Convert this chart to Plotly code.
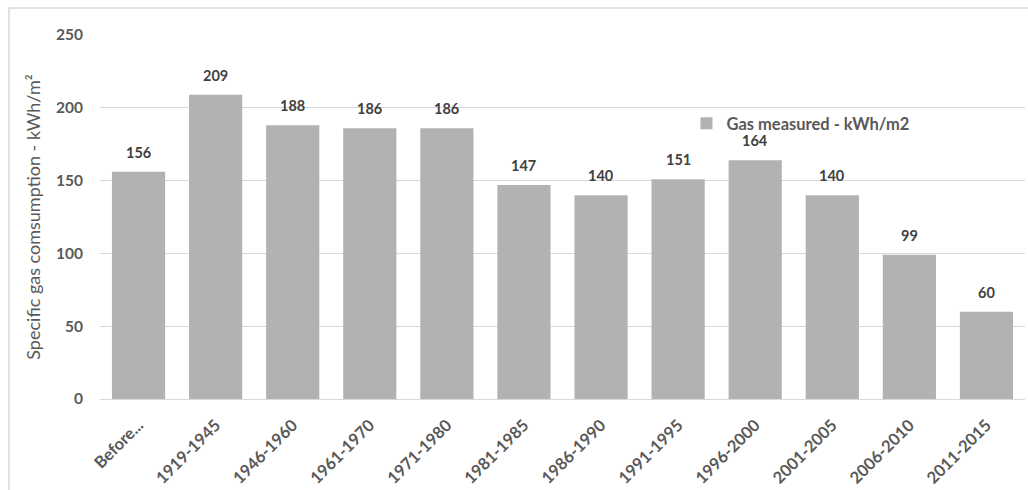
import plotly.graph_objects as go

periods = ["Before...", "1919-1945", "1946-1960", "1961-1970", "1971-1980",
           "1981-1985", "1986-1990", "1991-1995", "1996-2000", "2001-2005",
           "2006-2010", "2011-2015"]
gas_kwh_m2 = [156, 209, 188, 186, 186, 147, 140, 151, 164, 140, 99, 60]
y_ticks = [0, 50, 100, 150, 200, 250]

FONT = "Lato, 'Open Sans', sans-serif"
BAR = "#b2b2b2"
TEXT = "#595959"

fig = go.Figure()
fig.add_trace(go.Bar(
    x=periods,
    y=gas_kwh_m2,
    name="<b>Gas measured - kWh/m2</b>",
    marker=dict(color=BAR, line=dict(width=0)),
))

# value labels sit a little above each bar
for p, v in zip(periods, gas_kwh_m2):
    fig.add_annotation(
        x=p, y=v, text=f"<b>{v}</b>", showarrow=False,
        yanchor="bottom", yshift=9,
        font=dict(family=FONT, size=14.5, color="#404040"),
    )

fig.update_layout(
    width=1028, height=490,
    margin=dict(l=100, r=3, t=35, b=91),
    paper_bgcolor="white", plot_bgcolor="white",
    font=dict(family=FONT, color=TEXT),
    bargap=0.31,
    showlegend=True,
    legend=dict(
        x=0.634, y=0.757, xanchor="left", yanchor="middle",
        bgcolor="rgba(0,0,0,0)",
        font=dict(family=FONT, size=16.5, color=TEXT),
        itemwidth=30,
    ),
    xaxis=dict(
        tickangle=-45,
        tickvals=periods,
        ticktext=[f"<b>{p}</b>" for p in periods],
        tickfont=dict(family=FONT, size=16.5, color=TEXT),
        showline=True, linecolor="#d9d9d9", linewidth=1,
        ticks="", showgrid=False,
        ticklabelstandoff=9,
    ),
    yaxis=dict(
        range=[0, 250],
        tickvals=y_ticks,
        ticktext=[f"<b>{t}</b>" for t in y_ticks],
        tickfont=dict(family=FONT, size=15.5, color=TEXT),
        showgrid=True, gridcolor="#d9d9d9", gridwidth=1,
        zeroline=False, ticks="", ticklen=0,
        ticklabelstandoff=16,
        title=dict(text="Specific gas comsumption - kWh/m²",
                   font=dict(family=FONT, size=18, color=TEXT), standoff=10),
    ),
    shapes=[dict(
        type="rect", xref="paper", yref="paper",
        x0=-91 / 925, x1=1.01, y0=-1.1, y1=1 + 27 / 364,
        line=dict(color="#d9d9d9", width=1.5), fillcolor="rgba(0,0,0,0)",
        layer="below",
    )],
)

fig.write_html("out.html")
